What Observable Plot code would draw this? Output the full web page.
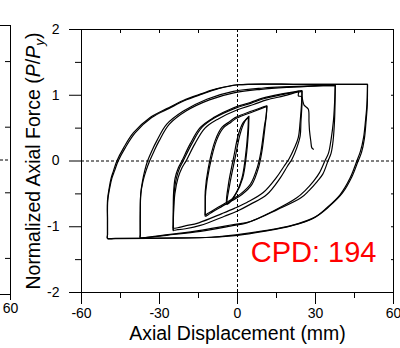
<!DOCTYPE html>
<html>
<head>
<meta charset="utf-8">
<script src="https://cdn.jsdelivr.net/npm/d3@7"></script>
<script src="https://cdn.jsdelivr.net/npm/@observablehq/plot@0.6"></script>
<style>
  html, body { margin: 0; padding: 0; background: white; }
  #wrap { position: relative; width: 400px; height: 348px; overflow: hidden; }
  #wrap svg { position: absolute; left: 0; top: 0; }
</style>
</head>
<body>
<div id="wrap"></div>
<script>
// ---------- data ----------
// displacement (mm), normalized force (P/Py) pairs, one array per loop
const loop5a = [[4.2,0.66],[4.0,0.46],[3.0,0.05],[1.7,-0.26],[-0.9,-0.51],[-4.1,-0.66],[-3.5,-0.36],[-1.5,0.05],[0.4,0.41],[2.3,0.59],[4.2,0.66]];
const loop5b = [[4.4,0.68],[4.2,0.45],[3.3,0.05],[2.0,-0.26],[-0.6,-0.5],[-3.9,-0.65],[-3.0,-0.36],[-0.9,0.05],[1.0,0.41],[2.8,0.6],[4.4,0.68]];
const loop12a = [[11.3,0.84],[11.1,0.7],[10.7,0.56],[9.4,0.15],[8.1,-0.1],[5.5,-0.36],[1.7,-0.51],[-2,-0.6],[-6,-0.69],[-9.5,-0.77],[-11.4,-0.82],[-12.4,-0.84],[-12.4,-0.78],[-12.4,-0.65],[-12.4,-0.46],[-11.2,-0.1],[-8.6,0.31],[-6,0.51],[-3,0.6],[-0.9,0.66],[5.5,0.76],[9,0.81],[11.3,0.84]];
const loop12b = [[11.3,0.83],[11,0.68],[10.4,0.54],[9,0.14],[7.6,-0.1],[5,-0.35],[1.2,-0.5],[-2.5,-0.59],[-6.4,-0.68],[-9.8,-0.76],[-11.5,-0.8],[-12.4,-0.82],[-12.4,-0.76],[-12.4,-0.65],[-12.2,-0.46],[-10.8,-0.1],[-8.1,0.31],[-5.5,0.5],[-2.5,0.59],[-0.4,0.65],[6,0.75],[9.3,0.8],[11.3,0.83]];
const loop25a = [[24.8,1.07],[24.8,0.87],[24.4,0.6],[24.1,0.38],[22.8,0.2],[21,0.03],[19.2,-0.08],[16.4,-0.26],[11.3,-0.51],[4.9,-0.66],[0,-0.76],[-5,-0.84],[-14.3,-0.98],[-20,-1.03],[-23,-1.045],[-24.7,-1.05],[-24.7,-1.0],[-24.7,-0.8],[-24.6,-0.5],[-24,-0.26],[-22.7,-0.1],[-21.4,0],[-18.2,0.26],[-14.3,0.51],[-9.2,0.66],[-1.5,0.81],[4.9,0.89],[10,0.96],[17,1.02],[22.8,1.06],[24.8,1.07]];
const loop25b = [[24.8,1.06],[24.6,0.85],[24.1,0.6],[23.4,0.36],[21.9,0.2],[19.8,0.03],[17.9,-0.08],[15,-0.25],[9.9,-0.48],[3.6,-0.63],[-1.2,-0.72],[-6,-0.8],[-14.9,-0.94],[-20.4,-0.99],[-23,-1.015],[-24.7,-1.02],[-24.7,-0.97],[-24.6,-0.8],[-24.1,-0.5],[-22.9,-0.26],[-21.3,-0.1],[-19.8,0],[-16.4,0.26],[-12.5,0.5],[-7.4,0.64],[0,0.78],[6.2,0.86],[11.2,0.93],[17.8,0.99],[23,1.045],[24.8,1.06]];
const loop37a = [[37.6,1.15],[37.3,0.85],[36.9,0.61],[36,0.33],[35,0.12],[33.6,0],[31.5,-0.18],[29.2,-0.31],[26,-0.45],[22.8,-0.56],[13.8,-0.76],[3.6,-0.94],[-2.8,-0.99],[-14.3,-1.07],[-27.2,-1.13],[-35,-1.165],[-37.4,-1.17],[-37.4,-1.12],[-37.4,-0.8],[-37.2,-0.5],[-36.5,-0.3],[-35.7,-0.15],[-34.6,0],[-33,0.15],[-31,0.31],[-27.2,0.56],[-20.8,0.76],[-11.8,0.94],[-1.6,1.06],[10,1.11],[20,1.13],[30,1.145],[37.6,1.15]];
const loop37b = [[37.6,1.15],[37.5,0.85],[37.3,0.6],[36.8,0.32],[36,0.12],[34.8,0],[32.8,-0.2],[30.7,-0.31],[27.5,-0.45],[24.4,-0.56],[15.3,-0.74],[5,-0.92],[-2,-0.97],[-13.6,-1.05],[-26.8,-1.12],[-35,-1.16],[-37.4,-1.165],[-37.4,-1.12],[-37.4,-0.8],[-37.2,-0.5],[-36.3,-0.3],[-35.2,-0.15],[-33.8,0],[-32.1,0.15],[-30.1,0.31],[-26.2,0.56],[-19.8,0.76],[-10.8,0.93],[-1,1.04],[9,1.09],[19.5,1.12],[30,1.14],[37.6,1.15]];
const loop50a = [[50,1.165],[49.8,0.87],[49.2,0.6],[48.5,0.36],[47.3,0.15],[45.9,0],[43.3,-0.26],[39.5,-0.51],[34.4,-0.71],[29.2,-0.87],[20.3,-0.99],[10,-1.07],[0,-1.13],[-10,-1.16],[-25,-1.175],[-47,-1.18],[-50,-1.18],[-50,-1.12],[-50,-0.9],[-50,-0.6],[-49.3,-0.4],[-48.6,-0.26],[-47.7,-0.15],[-46.4,0],[-43.8,0.2],[-40,0.43],[-33.6,0.66],[-27,0.8],[-20.9,0.92],[-14,1.02],[-7.9,1.10],[0,1.16],[25,1.165],[47,1.165],[50,1.165]];
const loop50b = [[50,1.165],[49.9,0.85],[49.4,0.58],[48.8,0.34],[47.7,0.13],[46.4,0],[44,-0.24],[40.3,-0.49],[35.3,-0.69],[30,-0.85],[21,-0.98],[10.5,-1.06],[0,-1.12],[-10,-1.16],[-25,-1.17],[-47,-1.175],[-50,-1.175],[-50,-1.12],[-50,-0.9],[-49.9,-0.6],[-49.1,-0.4],[-48.3,-0.26],[-47.3,-0.15],[-45.9,0],[-43.2,0.2],[-39.3,0.43],[-33,0.66],[-26.3,0.8],[-20.3,0.92],[-13.4,1.02],[-7.4,1.10],[0.5,1.16],[25,1.165],[47,1.165],[50,1.165]];
const finalRun = [[-24.7,-1.06],[-24.6,-0.7],[-24.3,-0.45],[-23.5,-0.26],[-22.2,-0.1],[-20.9,0],[-17.6,0.26],[-13.7,0.51],[-8.6,0.66],[-1,0.8],[5.3,0.88],[10.4,0.95],[17.3,1.01],[22.5,1.05],[23.5,1.06],[23.4,0.99],[24.6,0.98],[25.2,0.9],[25.6,0.85],[27.2,0.79],[27.5,0.6],[27.7,0.46],[28.2,0.3],[28.6,0.2],[29.2,0.18]];

const loops = {loop5a, loop5b, loop12a, loop12b, loop25a, loop25b, loop37a, loop37b, loop50a, loop50b, finalRun};

const xMajor = [-60, -30, 0, 30, 60];
const xMinor = [-45, -15, 15, 45];
const yMajor = [-2, -1, 0, 1, 2];
const yMinor = [-1.5, -0.5, 0.5, 1.5];
const xTitle = "Axial Displacement (mm)";
const yTitle = ["Normalized Axial Force (", "P", "/", "P", "y", ")"];
const note = "CPD: 194";
// neighbouring panel (cut off at the left edge)
const nbXTicks = [60];
const nbYTicks = [-1.5, -0.5, 0.5, 1.5];

// ---------- build ----------
const rows = [];
for (const [name, pts] of Object.entries(loops)) {
  for (const [x, y] of pts) rows.push({loop: name, x, y});
}
const font = "'Liberation Sans', Arial, sans-serif";
const fmt = d => String(d);
const none = () => "";

const main = Plot.plot({
  width: 400, height: 348,
  marginLeft: 81, marginRight: 7, marginTop: 29, marginBottom: 56,
  style: {fontFamily: font, fontSize: "14px", background: "white", color: "black", overflow: "visible"},
  x: {domain: [-60, 60]},
  y: {domain: [-2, 2]},
  marks: [
    Plot.ruleX([0], {stroke: "black", strokeDasharray: "3,2", strokeWidth: 1}),
    Plot.ruleY([0], {stroke: "black", strokeDasharray: "3,2", strokeWidth: 1}),
    Plot.line(rows, {x: "x", y: "y", z: "loop", curve: "catmull-rom", stroke: "black", strokeWidth: 1.2}),
    Plot.frame({stroke: "black"}),
    Plot.axisX({ticks: xMajor, tickSize: 12, tickPadding: 4, tickFormat: fmt, label: null, fontSize: 14}),
    Plot.axisX({ticks: xMinor, tickSize: 6, tickFormat: none, label: null}),
    Plot.axisX({anchor: "top", ticks: xMinor.concat([-30, 30]), tickSize: -3, tickFormat: none, label: null}),
    Plot.axisY({ticks: yMajor, tickSize: 12, tickPadding: 10, tickFormat: fmt, label: null, fontSize: 14}),
    Plot.axisY({ticks: yMinor, tickSize: 6, tickFormat: none, label: null}),
    Plot.axisY({anchor: "right", ticks: yMinor.concat([-1, 1]), tickSize: -3, tickFormat: none, label: null}),
    Plot.text([xTitle], {text: d => d, frameAnchor: "bottom", dy: 47, fontSize: 19.5, fill: "black"}),
    Plot.text([note], {text: d => d, frameAnchor: "bottom-right", textAnchor: "end", dx: -17, dy: -31, fontSize: 29, fill: "#ff0000"})
  ]
});

// y-axis title with italic P and subscript y
const svg = d3.select(main);
const t = svg.append("text")
  .attr("transform", "translate(40,161) rotate(-90)")
  .attr("text-anchor", "middle")
  .attr("font-family", font)
  .attr("font-size", 19.5)
  .attr("fill", "black");
t.append("tspan").text(yTitle[0]);
t.append("tspan").attr("font-style", "italic").text(yTitle[1]);
t.append("tspan").text(yTitle[2]);
t.append("tspan").attr("font-style", "italic").text(yTitle[3]);
t.append("tspan").attr("font-style", "italic").attr("font-size", 13.5).attr("dy", 4).text(yTitle[4]);
t.append("tspan").attr("dy", -4).text(yTitle[5]);

// neighbouring panel's right edge
const nb = Plot.plot({
  width: 20, height: 348,
  marginLeft: -300, marginRight: 10, marginTop: 25, marginBottom: 54,
  style: {fontFamily: font, fontSize: "14px", background: "transparent", color: "black", overflow: "visible"},
  x: {domain: [-60, 60]},
  y: {domain: [-2.05, 2.05]},
  marks: [
    Plot.ruleY([0], {stroke: "black", strokeDasharray: "3,2", strokeWidth: 1}),
    Plot.frame({stroke: "black"}),
    Plot.axisX({ticks: nbXTicks, tickSize: 6, tickPadding: 3, tickFormat: fmt, label: null}),
    Plot.axisY({anchor: "right", ticks: nbYTicks, tickSize: -6, tickFormat: none, label: null})
  ]
});

const wrap = document.getElementById("wrap");
wrap.appendChild(main);
wrap.appendChild(nb);
</script>
</body>
</html>
